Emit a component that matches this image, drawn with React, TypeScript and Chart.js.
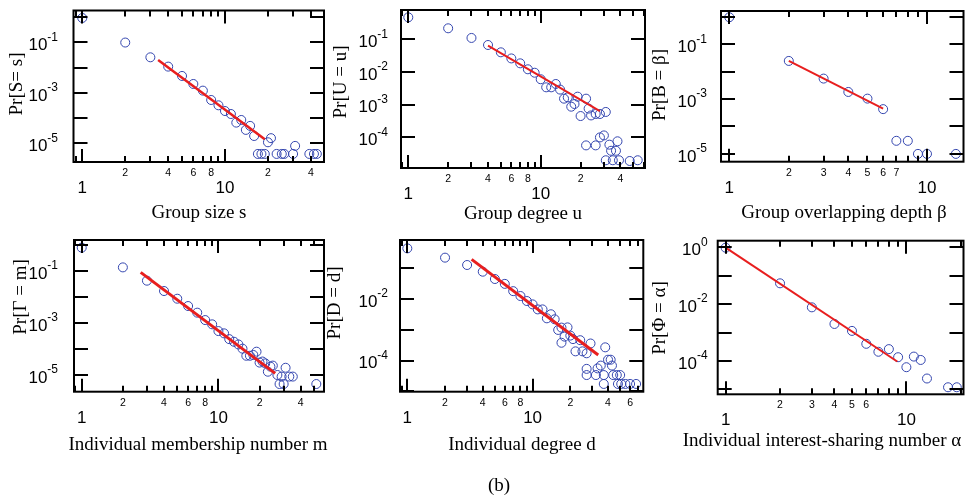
import React, { useEffect, useRef } from "react";
import { Chart, registerables } from "chart.js";
Chart.register(...registerables);

const W = 969;
const H = 499;
const BLUE = "rgb(52,70,175)";
const RED = "rgb(232,30,30)";
const SANS = '"Liberation Sans", Arial, Helvetica, sans-serif';
const SERIF = '"Liberation Serif", "Times New Roman", serif';

// ---- Group size s ----
const sizeX = [1, 2, 3, 4, 5, 6, 7, 8, 9, 10, 11, 12, 13, 14, 15, 16, 17, 18, 19, 20, 21, 23, 25, 26, 30, 31, 39, 42, 44];
const sizeY = [0.92, 0.098, 0.0255, 0.0109, 0.00465, 0.00224, 0.00122, 5.2e-4, 3.2e-4, 1.9e-4, 1.45e-4, 6.6e-5, 8.4e-5, 3.4e-5, 4.9e-5, 1.95e-5, 3.8e-6, 3.8e-6, 3.8e-6, 1.1e-5, 1.6e-5, 3.8e-6, 3.8e-6, 3.8e-6, 3.8e-6, 7.9e-6, 3.8e-6, 3.8e-6, 3.8e-6];
const sizeFitX = [3.4, 19];
const sizeFitY = [0.02, 1.45e-5];
const sizeTickVals = [2, 4, 6, 8, 20, 40];
const sizeTickText = ["2", "4", "6", "8", "2", "4"];
const sizeYExp = [-1, -3, -5];

// ---- Group degree u ----
const degX = [1, 2, 3, 4, 5, 6, 7, 8, 9, 10, 11, 12, 13, 14, 15, 16, 17, 18, 19, 20, 22, 23, 24, 26, 28, 31, 22, 26, 28, 30, 33, 34, 37, 38, 31, 35, 39, 47, 54];
const degY = [0.47, 0.217, 0.11, 0.067, 0.04, 0.026, 0.0184, 0.0121, 0.0095, 0.006, 0.0034, 0.0034, 0.0043, 0.0029, 0.00153, 0.00168, 0.00087, 0.00105, 0.00176, 0.00045, 0.00153, 0.00076, 0.00047, 0.00052, 0.00052, 0.0006, 5.7e-5, 5.7e-5, 1.0e-4, 1.15e-4, 6.0e-5, 3.9e-5, 3.9e-5, 7.6e-5, 2.0e-5, 2.0e-5, 2.0e-5, 1.9e-5, 2.0e-5];
const degFitX = [4, 28];
const degFitY = [0.064, 0.00064];
const degTickVals = [2, 4, 6, 8, 20, 40];
const degTickText = ["2", "4", "6", "8", "2", "4"];
const degYExp = [-1, -2, -3, -4];

// ---- Group overlapping depth beta ----
const betaX = [1, 2, 3, 4, 5, 6, 7, 8, 9, 10, 14];
const betaY = [0.97, 0.0247, 0.0056, 0.00182, 0.00104, 0.00043, 3.0e-5, 3.0e-5, 1.0e-5, 1.0e-5, 1.0e-5];
const betaFitX = [2, 6];
const betaFitY = [0.0247, 4.5e-4];
const betaTickVals = [2, 3, 4, 5, 6, 7];
const betaTickText = ["2", "3", "4", "5", "6", "7"];
const betaYExp = [-1, -3, -5];

// ---- Individual membership number m ----
const memX = [1, 2, 3, 4, 5, 6, 7, 8, 9, 10, 11, 12, 13, 14, 15, 16, 17, 18, 19, 20, 21, 22, 23, 24, 25, 27, 28, 30, 31, 29, 33, 35, 52];
const memY = [0.79, 0.138, 0.0425, 0.017, 0.0086, 0.0045, 0.0025, 0.0013, 8.9e-4, 4.9e-4, 4.0e-4, 2.4e-4, 1.9e-4, 1.5e-4, 1.03e-4, 5.5e-5, 5.5e-5, 5.9e-5, 7.9e-5, 3.0e-5, 3.3e-5, 2.8e-5, 1.34e-5, 2.1e-5, 2.3e-5, 1.0e-5, 4.5e-6, 4.5e-6, 1.9e-5, 8.7e-6, 8.7e-6, 8.7e-6, 4.5e-6];
const memFitX = [2.7, 26];
const memFitY = [0.089, 1.16e-5];
const memTickVals = [2, 4, 6, 8, 20, 40];
const memTickText = ["2", "4", "6", "8", "2", "4"];
const memYExp = [-1, -3, -5];

// ---- Individual degree d ----
const indX = [1, 2, 3, 4, 5, 6, 7, 8, 9, 10, 11, 12, 13, 14, 15, 16, 17, 18, 19, 17, 20, 21, 22, 24, 25, 27, 29, 27, 27, 32, 35, 33, 37, 38, 40, 42, 43, 37, 44, 47, 48, 50, 51, 55, 60, 67];
const indY = [0.44, 0.22, 0.127, 0.077, 0.0446, 0.031, 0.018, 0.0125, 0.0086, 0.0067, 0.0046, 0.0046, 0.00236, 0.0032, 0.0022, 9.9e-4, 1.18e-3, 6.0e-4, 1.2e-3, 3.8e-4, 6.5e-4, 5.0e-4, 2.0e-4, 4.6e-4, 2.0e-4, 1.73e-4, 3.6e-4, 5.4e-5, 3.4e-5, 3.4e-5, 6.9e-5, 5.6e-5, 3.4e-5, 2.7e-4, 1.07e-4, 1.07e-4, 6.9e-5, 1.75e-5, 3.4e-5, 3.4e-5, 1.75e-5, 3.4e-5, 1.75e-5, 1.75e-5, 1.75e-5, 1.75e-5];
const indFitX = [3.26, 33.4];
const indFitY = [0.193, 1.53e-4];
const indTickVals = [2, 4, 6, 8, 20, 40, 60];
const indTickText = ["2", "4", "6", "8", "2", "4", "6"];
const indYExp = [-2, -4];

// ---- Individual interest-sharing number alpha ----
const alphaX = [1, 2, 3, 4, 5, 6, 7, 8, 9, 10, 11, 12, 13, 17, 19];
const alphaY = [0.97, 0.054, 0.0077, 0.002, 0.00114, 4.0e-4, 2.1e-4, 2.6e-4, 1.35e-4, 6.0e-5, 1.42e-4, 1.08e-4, 2.4e-5, 1.18e-5, 1.18e-5];
const alphaFitX = [1, 8.9];
const alphaFitY = [0.97, 9.5e-5];
const alphaTickVals = [2, 3, 4, 5, 6];
const alphaTickText = ["2", "3", "4", "5", "6"];
const alphaYExp = [0, -2, -4];

const bigTickVals = [1, 10];
const bigTickText = ["1", "10"];

interface PanelCfg {
  xs: number[]; ys: number[]; fitX: number[]; fitY: number[];
  xMin: number; xMax: number; yMin: number; yMax: number;
  frame: [number, number, number, number];
  tickVals: number[]; tickText: string[]; yExp: number[];
  xTitle: string; yTitle: string;
  xTitleX: number; xTitleY: number; yTitleX: number; yTitleY: number;
  gap: number; fitWidth: number; caption?: string;
}

const panels: PanelCfg[] = [
  { xs: sizeX, ys: sizeY, fitX: sizeFitX, fitY: sizeFitY, xMin: 0.868, xMax: 49.4, yMin: 1.82e-6, yMax: 1.82,
    frame: [73.5, 10.5, 324, 162], tickVals: sizeTickVals, tickText: sizeTickText, yExp: sizeYExp,
    xTitle: "Group size s", yTitle: "Pr[S= s]", xTitleX: 199, xTitleY: 218, yTitleX: 17, yTitleY: 84, gap: 15.5, fitWidth: 2.5 },
  { xs: degX, ys: degY, fitX: degFitX, fitY: degFitY, xMin: 0.881, xMax: 61.3, yMin: 1.16e-5, yMax: 0.787,
    frame: [401, 10, 645, 168], tickVals: degTickVals, tickText: degTickText, yExp: degYExp,
    xTitle: "Group degree u", yTitle: "Pr[U = u]", xTitleX: 523, xTitleY: 219, yTitleX: 341.5, yTitleY: 82, gap: 13, fitWidth: 2 },
  { xs: betaX, ys: betaY, fitX: betaFitX, fitY: betaFitY, xMin: 0.908, xMax: 15.3, yMin: 5.19e-6, yMax: 1.64,
    frame: [721, 11, 965, 161.7], tickVals: betaTickVals, tickText: betaTickText, yExp: betaYExp,
    xTitle: "Group overlapping depth \u03b2", yTitle: "Pr[B = \u03b2]", xTitleX: 844, xTitleY: 218, yTitleX: 660.5, yTitleY: 85, gap: 14, fitWidth: 2 },
  { xs: memX, ys: memY, fitX: memFitX, fitY: memFitY, xMin: 0.878, xMax: 59.2, yMin: 2.28e-6, yMax: 1.56,
    frame: [74, 240, 324, 391.7], tickVals: memTickVals, tickText: memTickText, yExp: memYExp,
    xTitle: "Individual membership number m", yTitle: "Pr[\u0393 = m]", xTitleX: 198, xTitleY: 450, yTitleX: 21, yTitleY: 297, gap: 16, fitWidth: 3 },
  { xs: indX, ys: indY, fitX: indFitX, fitY: indFitY, xMin: 0.874, xMax: 76.5, yMin: 9.8e-6, yMax: 0.823,
    frame: [400, 240, 643.3, 391.7], tickVals: indTickVals, tickText: indTickText, yExp: indYExp,
    xTitle: "Individual degree d", yTitle: "Pr[D = d]", xTitleX: 522, xTitleY: 450, yTitleX: 335.5, yTitleY: 303, gap: 12, fitWidth: 3,
    caption: "(b)" },
  { xs: alphaX, ys: alphaY, fitX: alphaFitX, fitY: alphaFitY, xMin: 0.904, xMax: 20.7, yMin: 6.67e-6, yMax: 1.71,
    frame: [717.7, 240.7, 965, 394.3], tickVals: alphaTickVals, tickText: alphaTickText, yExp: alphaYExp,
    xTitle: "Individual interest-sharing number \u03b1", yTitle: "Pr[\u03a6 = \u03b1]", xTitleX: 822, xTitleY: 446, yTitleX: 660.5, yTitleY: 318, gap: 10, fitWidth: 2 },
];

function makeAxesPlugin(p: PanelCfg) {
  return {
    id: "frameAxes",
    afterDatasetsDraw(chart: any) {
      const ctx: CanvasRenderingContext2D = chart.ctx;
      const a = chart.chartArea;
      const xs = chart.scales.x;
      const ys = chart.scales.y;
      ctx.save();
      ctx.strokeStyle = "#000";
      ctx.lineWidth = 2;
      // x ticks (inward, top and bottom)
      const lo = Math.floor(Math.log10(p.xMin));
      const hi = Math.ceil(Math.log10(p.xMax));
      for (let d = lo; d <= hi; d++) {
        for (let k = 1; k <= 9; k++) {
          const v = k * Math.pow(10, d);
          if (v < p.xMin || v > p.xMax) continue;
          const px = Math.round(xs.getPixelForValue(v));
          const len = k === 1 ? 13 : 6;
          ctx.beginPath();
          ctx.moveTo(px, a.bottom);
          ctx.lineTo(px, a.bottom - len);
          ctx.moveTo(px, a.top);
          ctx.lineTo(px, a.top + len);
          ctx.stroke();
        }
      }
      // y ticks (decades, inward on both sides)
      const ylo = Math.floor(Math.log10(p.yMin));
      const yhi = Math.ceil(Math.log10(p.yMax));
      for (let e = ylo; e <= yhi; e++) {
        const v = Math.pow(10, e);
        if (v < p.yMin || v > p.yMax) continue;
        const py = Math.round(ys.getPixelForValue(v));
        ctx.beginPath();
        ctx.moveTo(a.left, py);
        ctx.lineTo(a.left + 14, py);
        ctx.moveTo(a.right, py);
        ctx.lineTo(a.right - 14, py);
        ctx.stroke();
      }
      ctx.strokeRect(a.left, a.top, a.right - a.left, a.bottom - a.top);

      // x tick labels
      ctx.fillStyle = "#000";
      ctx.textAlign = "center";
      ctx.textBaseline = "middle";
      ctx.font = `10.5px ${SANS}`;
      p.tickVals.forEach((v, i) => ctx.fillText(p.tickText[i], xs.getPixelForValue(v), a.bottom + 11));
      ctx.font = `17px ${SANS}`;
      bigTickVals.forEach((v, i) => ctx.fillText(bigTickText[i], xs.getPixelForValue(v), a.bottom + 26.5));

      // y tick labels 10^e
      p.yExp.forEach((e) => {
        const py = ys.getPixelForValue(Math.pow(10, e));
        const sup = String(e);
        ctx.font = `12px ${SANS}`;
        const sw = ctx.measureText(sup).width;
        ctx.font = `17px ${SANS}`;
        const bw = ctx.measureText("10").width;
        const right = a.left - p.gap;
        ctx.textAlign = "left";
        ctx.fillText("10", right - sw - bw, py + 3);
        ctx.font = `12px ${SANS}`;
        ctx.fillText(sup, right - sw, py - 5);
      });

      // axis titles
      ctx.font = `19px ${SERIF}`;
      ctx.textAlign = "center";
      ctx.textBaseline = "alphabetic";
      ctx.fillText(p.xTitle, p.xTitleX, p.xTitleY);
      if (p.caption) ctx.fillText(p.caption, 499, 491);
      ctx.save();
      ctx.translate(p.yTitleX, p.yTitleY);
      ctx.rotate(-Math.PI / 2);
      ctx.textBaseline = "middle";
      ctx.fillText(p.yTitle, 0, 0);
      ctx.restore();
      ctx.restore();
    },
  };
}

function Panel({ cfg }: { cfg: PanelCfg }) {
  const ref = useRef<HTMLCanvasElement>(null);
  useEffect(() => {
    const [l, t, r, b] = cfg.frame;
    const points = cfg.xs.map((x, i) => ({ x, y: cfg.ys[i] }));
    const fit = cfg.fitX.map((x, i) => ({ x, y: cfg.fitY[i] }));
    const chart = new Chart(ref.current as HTMLCanvasElement, {
      type: "scatter",
      data: {
        datasets: [
          {
            type: "line",
            data: fit,
            borderColor: RED,
            borderWidth: cfg.fitWidth,
            pointRadius: 0,
            showLine: true,
            fill: false,
            clip: false,
          } as any,
          {
            type: "scatter",
            data: points,
            pointRadius: 4.5,
            pointBorderWidth: 1,
            pointBorderColor: BLUE,
            borderColor: BLUE,
            pointBackgroundColor: "rgba(0,0,0,0)",
            backgroundColor: "rgba(0,0,0,0)",
            clip: false,
          } as any,
        ],
      },
      options: {
        responsive: false,
        animation: false,
        events: [],
        layout: { padding: { left: l, top: t, right: W - r, bottom: H - b } },
        plugins: { legend: { display: false }, tooltip: { enabled: false } },
        scales: {
          x: { type: "logarithmic", min: cfg.xMin, max: cfg.xMax, display: false },
          y: { type: "logarithmic", min: cfg.yMin, max: cfg.yMax, display: false },
        },
      },
      plugins: [makeAxesPlugin(cfg)],
    });
    return () => chart.destroy();
  }, [cfg]);
  return (
    <canvas
      ref={ref}
      width={W}
      height={H}
      style={{ position: "absolute", left: 0, top: 0, width: W, height: H }}
    />
  );
}

export default function App() {
  return (
    <div style={{ position: "absolute", left: 0, top: 0, width: W, height: H, background: "#fff", overflow: "hidden" }}>
      {panels.map((p, i) => (
        <Panel key={i} cfg={p} />
      ))}
    </div>
  );
}
